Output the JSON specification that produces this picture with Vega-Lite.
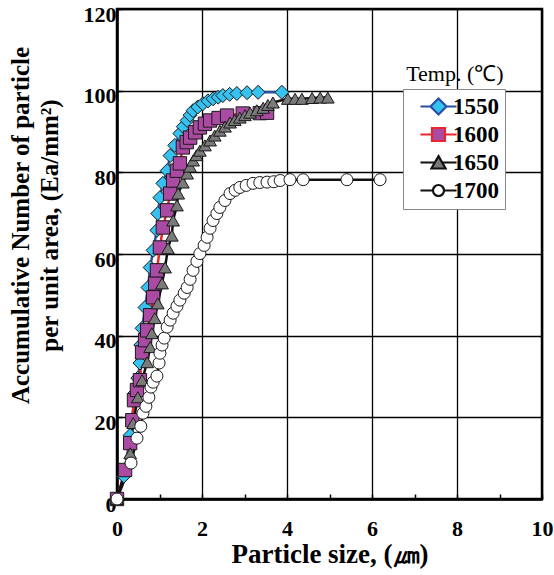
{
  "$schema": "https://vega.github.io/schema/vega-lite/v6.json",
  "width": 425,
  "height": 490,
  "autosize": {"type": "none"},
  "padding": {"left": 117, "top": 9, "right": 12, "bottom": 76},
  "background": "white",
  "config": {
    "view": {"stroke": "black", "strokeWidth": 2.5},
    "font": "Liberation Serif",
    "axis": {
      "domainColor": "black",
      "domainWidth": 2.5,
      "gridColor": "black",
      "gridWidth": 1.3,
      "gridOpacity": 1,
      "tickColor": "black",
      "tickWidth": 1.5,
      "tickSize": -5,
      "labelFont": "Liberation Serif",
      "labelFontWeight": "bold",
      "labelFontSize": 22,
      "labelColor": "black",
      "titleFont": "Liberation Serif",
      "titleFontWeight": "bold",
      "titleFontSize": 25,
      "titleColor": "black"
    }
  },
  "data": {"values": [
    {"T":"1550","x":0,"y":0},
    {"T":"1550","x":0.16,"y":5.6},
    {"T":"1550","x":0.31,"y":15.6},
    {"T":"1550","x":0.42,"y":25.9},
    {"T":"1550","x":0.49,"y":29.6},
    {"T":"1550","x":0.54,"y":33.3},
    {"T":"1550","x":0.56,"y":37.7},
    {"T":"1550","x":0.59,"y":41.8},
    {"T":"1550","x":0.66,"y":46.9},
    {"T":"1550","x":0.73,"y":51.8},
    {"T":"1550","x":0.78,"y":56.7},
    {"T":"1550","x":0.85,"y":60.9},
    {"T":"1550","x":0.94,"y":65.8},
    {"T":"1550","x":0.96,"y":69.9},
    {"T":"1550","x":1.01,"y":73.8},
    {"T":"1550","x":1.08,"y":77.3},
    {"T":"1550","x":1.18,"y":80.4},
    {"T":"1550","x":1.25,"y":84.1},
    {"T":"1550","x":1.36,"y":86.6},
    {"T":"1550","x":1.48,"y":89.5},
    {"T":"1550","x":1.56,"y":91.2},
    {"T":"1550","x":1.65,"y":92.7},
    {"T":"1550","x":1.72,"y":94.0},
    {"T":"1550","x":1.79,"y":95.1},
    {"T":"1550","x":1.9,"y":96.0},
    {"T":"1550","x":2.02,"y":96.8},
    {"T":"1550","x":2.14,"y":97.5},
    {"T":"1550","x":2.26,"y":98.0},
    {"T":"1550","x":2.38,"y":98.4},
    {"T":"1550","x":2.49,"y":98.8},
    {"T":"1550","x":2.65,"y":99.1},
    {"T":"1550","x":2.82,"y":99.3},
    {"T":"1550","x":3.06,"y":99.5},
    {"T":"1550","x":3.32,"y":99.6},
    {"T":"1550","x":3.88,"y":99.6},
    {"T":"1600","x":0,"y":0},
    {"T":"1600","x":0.19,"y":7.1},
    {"T":"1600","x":0.31,"y":13.7},
    {"T":"1600","x":0.36,"y":19.3},
    {"T":"1600","x":0.4,"y":24.2},
    {"T":"1600","x":0.47,"y":26.7},
    {"T":"1600","x":0.54,"y":29.1},
    {"T":"1600","x":0.59,"y":35.9},
    {"T":"1600","x":0.66,"y":38.9},
    {"T":"1600","x":0.71,"y":41.3},
    {"T":"1600","x":0.78,"y":45.0},
    {"T":"1600","x":0.85,"y":49.4},
    {"T":"1600","x":0.9,"y":52.8},
    {"T":"1600","x":0.94,"y":56.0},
    {"T":"1600","x":1.01,"y":61.6},
    {"T":"1600","x":1.08,"y":66.5},
    {"T":"1600","x":1.18,"y":70.7},
    {"T":"1600","x":1.25,"y":74.8},
    {"T":"1600","x":1.32,"y":78.0},
    {"T":"1600","x":1.41,"y":80.4},
    {"T":"1600","x":1.48,"y":82.2},
    {"T":"1600","x":1.55,"y":86.1},
    {"T":"1600","x":1.64,"y":87.4},
    {"T":"1600","x":1.72,"y":88.5},
    {"T":"1600","x":1.84,"y":89.8},
    {"T":"1600","x":1.95,"y":91.0},
    {"T":"1600","x":2.07,"y":91.9},
    {"T":"1600","x":2.19,"y":92.7},
    {"T":"1600","x":2.39,"y":93.3},
    {"T":"1600","x":2.59,"y":93.9},
    {"T":"1600","x":2.96,"y":94.4},
    {"T":"1600","x":3.36,"y":94.5},
    {"T":"1600","x":3.53,"y":94.6},
    {"T":"1650","x":0,"y":0},
    {"T":"1650","x":0.31,"y":11.2},
    {"T":"1650","x":0.38,"y":18.6},
    {"T":"1650","x":0.49,"y":24.9},
    {"T":"1650","x":0.59,"y":29.1},
    {"T":"1650","x":0.71,"y":33.5},
    {"T":"1650","x":0.78,"y":37.2},
    {"T":"1650","x":0.82,"y":40.6},
    {"T":"1650","x":0.89,"y":44.3},
    {"T":"1650","x":0.96,"y":47.9},
    {"T":"1650","x":1.06,"y":52.8},
    {"T":"1650","x":1.13,"y":56.7},
    {"T":"1650","x":1.2,"y":61.4},
    {"T":"1650","x":1.29,"y":64.5},
    {"T":"1650","x":1.32,"y":68.2},
    {"T":"1650","x":1.41,"y":71.9},
    {"T":"1650","x":1.44,"y":74.8},
    {"T":"1650","x":1.55,"y":77.5},
    {"T":"1650","x":1.65,"y":79.7},
    {"T":"1650","x":1.72,"y":81.4},
    {"T":"1650","x":1.79,"y":82.9},
    {"T":"1650","x":1.87,"y":84.2},
    {"T":"1650","x":1.95,"y":85.3},
    {"T":"1650","x":2.07,"y":86.6},
    {"T":"1650","x":2.19,"y":87.8},
    {"T":"1650","x":2.3,"y":89.0},
    {"T":"1650","x":2.42,"y":90.2},
    {"T":"1650","x":2.54,"y":91.2},
    {"T":"1650","x":2.66,"y":92.2},
    {"T":"1650","x":2.77,"y":92.8},
    {"T":"1650","x":2.89,"y":93.4},
    {"T":"1650","x":3.01,"y":94.0},
    {"T":"1650","x":3.13,"y":94.6},
    {"T":"1650","x":3.29,"y":95.2},
    {"T":"1650","x":3.44,"y":95.8},
    {"T":"1650","x":3.55,"y":96.5},
    {"T":"1650","x":3.67,"y":97.1},
    {"T":"1650","x":4.02,"y":98.0},
    {"T":"1650","x":4.19,"y":98.0},
    {"T":"1650","x":4.35,"y":98.0},
    {"T":"1650","x":4.59,"y":98.2},
    {"T":"1650","x":4.78,"y":98.3},
    {"T":"1650","x":4.96,"y":98.3},
    {"T":"1700","x":0,"y":0},
    {"T":"1700","x":0.33,"y":8.8},
    {"T":"1700","x":0.47,"y":14.9},
    {"T":"1700","x":0.56,"y":17.8},
    {"T":"1700","x":0.61,"y":21.0},
    {"T":"1700","x":0.68,"y":22.7},
    {"T":"1700","x":0.75,"y":24.9},
    {"T":"1700","x":0.8,"y":27.4},
    {"T":"1700","x":0.85,"y":28.6},
    {"T":"1700","x":0.94,"y":30.1},
    {"T":"1700","x":0.99,"y":33.3},
    {"T":"1700","x":1.01,"y":35.7},
    {"T":"1700","x":1.06,"y":37.7},
    {"T":"1700","x":1.11,"y":39.4},
    {"T":"1700","x":1.18,"y":42.1},
    {"T":"1700","x":1.25,"y":43.8},
    {"T":"1700","x":1.32,"y":45.5},
    {"T":"1700","x":1.41,"y":47.2},
    {"T":"1700","x":1.48,"y":48.7},
    {"T":"1700","x":1.58,"y":50.4},
    {"T":"1700","x":1.65,"y":51.8},
    {"T":"1700","x":1.72,"y":53.8},
    {"T":"1700","x":1.79,"y":56.0},
    {"T":"1700","x":1.88,"y":58.2},
    {"T":"1700","x":1.95,"y":60.1},
    {"T":"1700","x":2.05,"y":62.1},
    {"T":"1700","x":2.12,"y":64.1},
    {"T":"1700","x":2.19,"y":66.3},
    {"T":"1700","x":2.26,"y":68.2},
    {"T":"1700","x":2.35,"y":69.9},
    {"T":"1700","x":2.42,"y":71.4},
    {"T":"1700","x":2.54,"y":73.1},
    {"T":"1700","x":2.66,"y":74.8},
    {"T":"1700","x":2.78,"y":75.6},
    {"T":"1700","x":2.89,"y":76.3},
    {"T":"1700","x":3.04,"y":76.8},
    {"T":"1700","x":3.2,"y":77.3},
    {"T":"1700","x":3.36,"y":77.5},
    {"T":"1700","x":3.53,"y":77.6},
    {"T":"1700","x":3.69,"y":77.7},
    {"T":"1700","x":3.84,"y":78.0},
    {"T":"1700","x":4.07,"y":78.2},
    {"T":"1700","x":4.38,"y":78.2},
    {"T":"1700","x":5.41,"y":78.2},
    {"T":"1700","x":6.19,"y":78.2}
  ]},
  "layer": [
    {
      "mark": {"type": "line", "strokeWidth": 2.5},
      "encoding": {
        "x": {"field": "x", "type": "quantitative",
          "scale": {"domain": [0, 10], "nice": false},
          "axis": {
            "values": [0,1,2,3,4,5,6,7,8,9,10],
            "labelExpr": "datum.value % 2 == 0 ? datum.label : ''",
            "grid": true,
            "gridColor": {"condition": {"test": "datum.value % 2 == 1", "value": "transparent"}, "value": "black"},
            "labelPadding": 24,
            "labelFlush": false,
            "title": "Particle size, (㎛)",
            "titleFontSize": 27,
            "titlePadding": 2
          }},
        "y": {"field": "y", "type": "quantitative",
          "scale": {"domain": [0, 120], "nice": false},
          "axis": {
            "values": [0,20,40,60,80,100,120],
            "grid": true,
            "labelPadding": 6,
            "labelOffset": 5,
            "title": ["Accumulative Number of particle", "per unit area, (Ea/mm²)"],
            "titleLineHeight": 29,
            "titlePadding": 21,
            "titleY": 216
          }},
        "stroke": {"field": "T", "type": "nominal",
          "scale": {"domain": ["1550","1600","1650","1700"], "range": ["#2a4fa6", "#e8262b", "#111111", "#111111"]},
          "legend": {
            "orient": "none", "legendX": 286, "legendY": 80, "title": null,
            "symbolType": "M-2.55,0H2.55", "symbolSize": 200, "symbolStrokeWidth": 2.2,
            "symbolOffset": 18, "labelOffset": 3,
            "labelFont": "Liberation Serif", "labelFontSize": 23, "labelFontWeight": "bold", "labelColor": "black",
            "padding": 6, "rowPadding": 4,
            "fillColor": "white", "strokeColor": "#888888",
            "zindex": 3,
            "encoding": {
              "symbols": {
                "shape": {"value": {"expr": "datum.value == '1550' ? 'M-2.55,0H-1.13M1.13,0H2.55M0,-1.13L1.13,0L0,1.13L-1.13,0Z' : datum.value == '1600' ? 'M-2.55,0H-0.92M0.92,0H2.55M-0.92,-0.92H0.92V0.92H-0.92Z' : datum.value == '1650' ? 'M-2.55,0H-0.51M0.51,0H2.55M0,-0.9L1,0.85H-1Z' : 'M-2.55,0H-0.78M0.78,0H2.55M-0.78,0A0.78,0.78,0,1,0,0.78,0A0.78,0.78,0,1,0,-0.78,0Z'"}},
                "fill": {"value": {"expr": "datum.value == '1550' ? '#35c2f0' : datum.value == '1600' ? '#ab4aa3' : datum.value == '1650' ? '#7a7a7a' : '#ffffff'"}},
                "fillOpacity": {"value": 1}
              }
            }
          }}
      }
    },
    {
      "mark": {"type": "point", "filled": true, "opacity": 1, "stroke": "#1a1a1a", "strokeWidth": 1},
      "encoding": {
        "x": {"field": "x", "type": "quantitative"},
        "y": {"field": "y", "type": "quantitative"},
        "fill": {"field": "T", "type": "nominal",
          "scale": {"range": ["#35c2f0", "#ab4aa3", "#7a7a7a", "#ffffff"]},
          "legend": null},
        "shape": {"field": "T", "type": "nominal",
          "scale": {"range": ["diamond", "square", "triangle-up", "circle"]},
          "legend": null},
        "size": {"field": "T", "type": "ordinal",
          "scale": {"range": [196, 144, 225, 196]}, "legend": null}
      }
    },
    {
      "data": {"values": [{"label": "Temp. (℃)"}]},
      "mark": {"type": "text", "font": "Liberation Serif", "fontSize": 22, "align": "center", "baseline": "middle", "color": "black"},
      "encoding": {
        "x": {"datum": 7.95, "type": "quantitative"},
        "y": {"datum": 104.2, "type": "quantitative"},
        "text": {"field": "label"}
      }
    }
  ]
}
